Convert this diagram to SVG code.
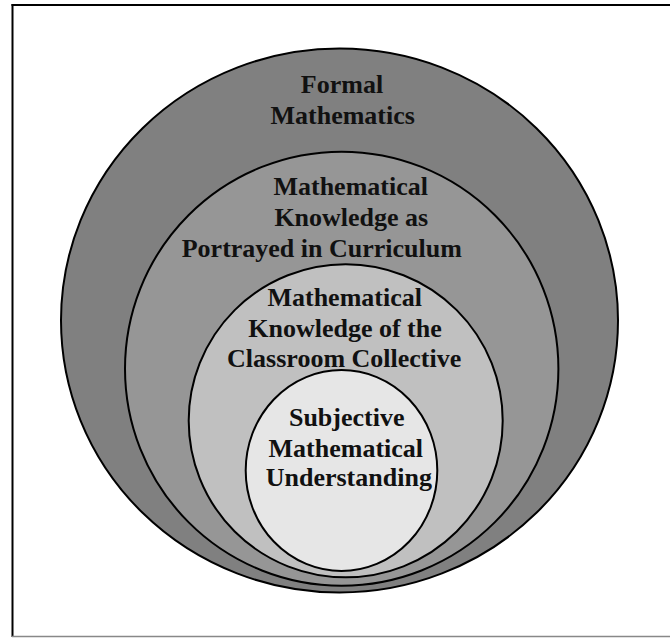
<svg xmlns="http://www.w3.org/2000/svg" width="670" height="638" viewBox="0 0 670 638">
<style>
.ring{stroke:#000;stroke-width:2}
.lbl{font-family:"Liberation Serif","Times New Roman",serif;font-weight:bold;font-size:26px;fill:#111;text-anchor:middle}
</style>
<rect x="0" y="0" width="670" height="638" fill="#fff"/>
<g id="frame">
<line x1="11.5" y1="5" x2="670" y2="5" stroke="#000" stroke-width="2"/>
<line x1="12.5" y1="4" x2="12.5" y2="637" stroke="#000" stroke-width="2"/>
<line x1="12" y1="636.5" x2="670" y2="636.5" stroke="#888" stroke-width="1.5"/>
</g>
<g id="formal">
<ellipse class="ring" cx="339.5" cy="320.5" rx="278.5" ry="272" fill="#808080"/>
<text class="lbl" x="342" y="93.3">Formal</text>
<text class="lbl" x="342.7" y="124">Mathematics</text>
</g>
<g id="curriculum">
<ellipse class="ring" cx="341.7" cy="368.7" rx="216.7" ry="217" fill="#969696"/>
<text class="lbl" x="350.7" y="195">Mathematical</text>
<text class="lbl" x="351.3" y="226">Knowledge as</text>
<text class="lbl" x="321.8" y="256.7">Portrayed in Curriculum</text>
</g>
<g id="collective">
<ellipse class="ring" cx="345.7" cy="420.8" rx="157" ry="156.5" fill="#c0c0c0"/>
<text class="lbl" x="344.7" y="306">Mathematical</text>
<text class="lbl" x="345" y="336.7">Knowledge of the</text>
<text class="lbl" x="344.2" y="367.3">Classroom Collective</text>
</g>
<g id="subjective">
<ellipse class="ring" cx="341.5" cy="470.5" rx="95.8" ry="100.5" fill="#e6e6e6"/>
<text class="lbl" x="346.7" y="426">Subjective</text>
<text class="lbl" x="345.8" y="456.7">Mathematical</text>
<text class="lbl" x="348.8" y="486">Understanding</text>
</g>
<g id="connectors"/>
</svg>
